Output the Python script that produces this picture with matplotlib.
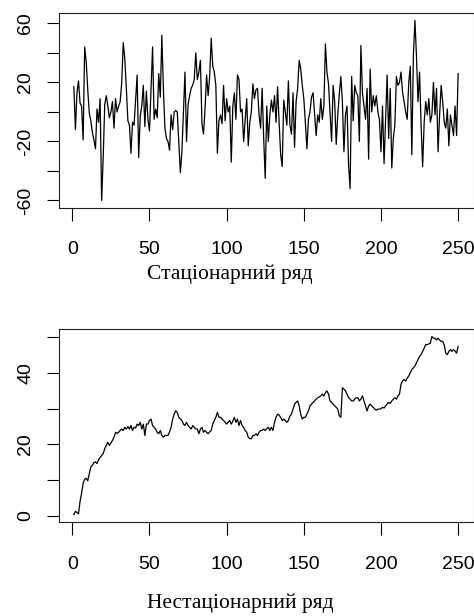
import numpy as np
import matplotlib.pyplot as plt

# stationary series
stat = [17, -12, 13, 21, 6, 4, -19, 44, 34, 15,
        -1, -6, -14, -19, -25, 2, -7, 9, -60, -31,
        5, 11, 4, -4, 0, 7, -11, 9, 0, 4,
        7, 20, 47, 36, 16, -6, -9, -28, -7, -9,
        8, 25, -31, -3, 4, 18, -10, 14, -5, -13,
        16, 44, -5, 2, -4, 26, 10, 52, 16, -11,
        -18, -20, -26, -2, -12, 0, 1, 0, -20, -41,
        -27, 0, 27, -20, 5, 11, 16, 18, 22, 40,
        22, 27, 35, -8, -15, 2, 25, 11, 24, 50,
        31, 27, 18, -28, -6, -2, -8, 18, -6, 9,
        0, 4, -34, 4, 13, -5, 25, 22, 0, 2,
        -20, -5, 9, -23, -7, 0, 19, 9, 15, 16,
        -2, -11, 16, -18, -45, 4, -20, -2, 8, 0,
        11, -7, 17, -7, -29, -37, 8, 0, -9, 21,
        -9, -15, 13, -24, 7, 16, 35, 29, 18, 9,
        -7, -25, -5, 0, 10, 13, -2, -16, -2, -7,
        9, -5, 4, 46, 27, 19, 0, -20, 18, 7,
        -22, -2, 12, 24, 7, -27, -2, 4, -36, -52,
        24, -6, 18, 13, 11, -20, 45, 13, 4, -5,
        16, -32, 29, 0, 11, 4, 11, 0, -5, -27,
        4, -35, -5, 25, -18, 16, -38, -18, -9, 24,
        18, 20, 27, 13, 7, 0, -5, 20, 31, -29,
        38, 62, 38, 7, 27, -9, -37, -7, 7, -2,
        9, -7, -2, 20, -2, 16, -27, -2, 18, 7,
        -7, -11, 2, -23, -2, -9, -16, 4, -16, 26]

# non-stationary series
nonstat = [0.3, 1.2, 0.9, 0.5, 4.0, 6.3, 9.1, 10.2, 10.5, 9.8,
           11.8, 13.7, 14.2, 14.9, 15.1, 14.6, 15.7, 16.3, 16.9, 17.4,
           18.8, 19.7, 20.6, 19.7, 20.4, 21.1, 22.0, 23.4, 23.1, 23.4,
           23.9, 24.3, 23.9, 24.8, 24.3, 25.0, 24.3, 25.3, 23.9, 24.8,
           24.6, 25.7, 25.3, 26.2, 24.3, 25.7, 22.5, 25.7, 25.7, 26.7,
           27.1, 25.3, 24.8, 24.3, 23.4, 23.0, 23.9, 22.5, 22.0, 22.5,
           22.5, 22.5, 23.5, 24.8, 27.1, 28.5, 29.4, 29.0, 27.6, 27.1,
           26.7, 25.7, 25.3, 26.2, 25.3, 24.8, 24.3, 25.3, 24.8, 24.3,
           24.3, 23.0, 24.3, 24.8, 23.4, 23.9, 23.4, 23.0, 23.5, 23.9,
           25.7, 26.7, 27.6, 29.0, 27.6, 27.6, 27.1, 26.7, 26.2, 25.7,
           26.2, 26.7, 25.7, 26.5, 27.6, 26.2, 27.1, 25.3, 26.7, 25.3,
           24.8, 23.9, 23.4, 22.0, 21.6, 21.6, 22.5, 22.5, 23.0, 22.5,
           23.4, 23.9, 23.9, 24.3, 23.9, 24.4, 24.8, 23.9, 24.8, 23.9,
           26.2, 27.6, 28.5, 28.2, 27.6, 26.7, 27.1, 26.7, 26.2, 26.7,
           28.0, 28.5, 29.9, 31.3, 31.8, 32.2, 30.8, 28.5, 27.1, 27.6,
           27.6, 28.5, 29.4, 30.8, 31.3, 31.8, 32.2, 32.7, 33.1, 33.3,
           33.6, 34.1, 33.6, 34.5, 35.0, 34.1, 32.2, 31.8, 31.3, 30.8,
           30.4, 29.9, 28.0, 27.6, 35.9, 35.5, 35.0, 34.1, 33.1, 32.7,
           32.2, 32.2, 32.7, 33.1, 33.1, 32.2, 32.7, 33.6, 32.2, 30.8,
           29.4, 30.8, 31.3, 30.8, 30.4, 29.9, 29.6, 29.9, 29.9, 30.0,
           30.4, 30.2, 30.8, 31.3, 31.8, 31.5, 32.2, 32.7, 33.1, 32.7,
           33.6, 34.1, 36.9, 37.8, 38.2, 37.8, 38.6, 39.2, 40.1, 41.0,
           41.5, 42.0, 42.9, 43.8, 44.7, 45.2, 46.1, 47.0, 48.0, 48.0,
           48.2, 48.4, 50.3, 49.8, 49.8, 49.3, 49.8, 49.3, 48.9, 48.9,
           47.9, 45.6, 45.2, 46.1, 46.6, 46.1, 46.6, 46.2, 45.6, 47.5]

xticks = [0, 50, 100, 150, 200, 250]
yticks_top = [-60, -40, -20, 0, 20, 40, 60]
ylabels_top = ['-60', '', '-20', '', '20', '', '60']
yticks_bot = [0, 10, 20, 30, 40, 50]
ylabels_bot = ['0', '', '20', '', '40', '']
captions = ['Стаціонарний ряд', 'Нестаціонарний ряд']

plt.rcParams['font.family'] = ['Liberation Sans', 'DejaVu Sans']

W, H = 474, 616
fig = plt.figure(figsize=(W / 100, H / 100), dpi=100)
ax1 = fig.add_axes([58.5 / W, 1 - 207.7 / H, 415 / W, 194.5 / H])
ax2 = fig.add_axes([58.5 / W, 1 - 521.7 / H, 415 / W, 192.4 / H])


def r_lim(v):
    # R style 4% padding
    lo, hi = min(v), max(v)
    d = 0.04 * (hi - lo)
    return lo - d, hi + d


for ax, y, yt, yl, xpad in [(ax1, stat, yticks_top, ylabels_top, 15),
                            (ax2, nonstat, yticks_bot, ylabels_bot, 16)]:
    x = np.arange(1, len(y) + 1)
    ax.plot(x, y, color='black', lw=0.9)
    ax.set_xlim(*r_lim(x))
    ax.set_ylim(*r_lim(y))
    ax.set_xticks(xticks)
    ax.set_xticklabels([str(t) for t in xticks])
    ax.set_yticks(yt)
    ax.set_yticklabels(yl, rotation=90, va='center')
    ax.tick_params(axis='x', length=9, width=0.8, pad=xpad, labelsize=14)
    ax.tick_params(axis='y', length=8.5, width=0.8, pad=9, labelsize=14)
    for s in ax.spines.values():
        s.set_linewidth(0.8)
        s.set_color('#222222')

fig.text(147 / W, 1 - 279 / H, captions[0], family='Liberation Serif',
         fontsize=15.5, ha='left', va='baseline')
fig.text(147 / W, 1 - 608 / H, captions[1], family='Liberation Serif',
         fontsize=15.5, ha='left', va='baseline')

plt.savefig('out.png', dpi=100)
